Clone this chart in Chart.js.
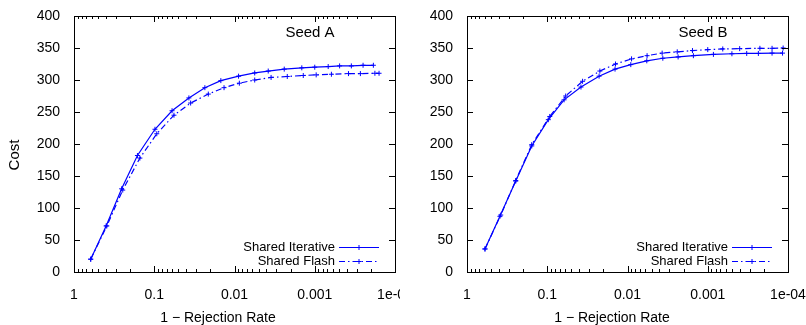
<!DOCTYPE html>
<html>
<head>
<meta charset="utf-8">
<script src="https://cdn.jsdelivr.net/npm/chart.js@4.4.1/dist/chart.umd.min.js"></script>
<style>
body{margin:0;background:#fff;}
#wrap{position:relative;width:806px;height:325px;}
canvas{position:absolute;top:0;}
</style>
</head>
<body>
<div id="wrap">
<canvas id="left" width="400" height="325" style="left:0"></canvas>
<canvas id="right" width="406" height="325" style="left:400px"></canvas>
</div>
<script>

const seriesNames=["Shared Iterative","Shared Flash"];
const panelTitles=["Seed A","Seed B"];
const xTicks=[1,0.1,0.01,0.001,0.0001];
const xTickLabels=["1","0.1","0.01","0.001","1e-04"];
const yTicks=[0,50,100,150,200,250,300,350,400];

const aIterX=[0.619,0.398,0.255,0.162,0.098,0.060,0.037,0.0234,0.0148,0.0089,0.0056,0.0038,0.0024,0.00145,0.001,0.00068,0.00049,0.00035,0.00025,0.000186];
const aIterY=[20,72,130,182,223,252,272,288,299,306,311,314,317,319,320,321,322,322,323,323];
const aFlashX=[0.619,0.39,0.247,0.151,0.093,0.0568,0.0352,0.0212,0.0135,0.0087,0.0056,0.0035,0.0022,0.00139,0.00096,0.00062,0.00038,0.00027,0.000178,0.000158];
const aFlashY=[20,72,128,178,216,245,264,278,288,295,300,304,305.5,307,308,309,310,310,310.5,310.5];

const bIterX=[0.597,0.389,0.247,0.156,0.097,0.0617,0.038,0.0226,0.0143,0.0091,0.00575,0.00363,0.00234,0.00151,0.00085,0.0005,0.000327,0.000234,0.000158,0.000117];
const bIterY=[36,87,142,197,238,269,289,306,317,324,330,334,336,338,340,341,341.5,341.5,342,342];
const bFlashX=[0.597,0.38,0.247,0.156,0.093,0.0589,0.0363,0.0221,0.0141,0.0089,0.0057,0.0037,0.0024,0.00155,0.001,0.00065,0.0004,0.000224,0.000158,0.000115];
const bFlashY=[36,89,143,199,243,275,298,314,325,333,338,342,344,346,347.5,348.5,349,349.5,349.5,350];

const blue="rgb(0,0,255)";
const font="'Liberation Sans', Arial, sans-serif";
const flashDash=[6,3,1.5,3];

function points(xs,ys){
return xs.map((x,i)=>({x:x,y:ys[i]}));
}

function drawCross(ctx,x,y,r){
ctx.beginPath();
ctx.moveTo(x-r,y);ctx.lineTo(x+r,y);
ctx.moveTo(x,y-r);ctx.lineTo(x,y+r);
ctx.stroke();
}

// frame, inward ticks, titles and key, gnuplot style
const decor={
id:"decor",
afterDraw(chart,args,opts){
let ctx=chart.ctx;
let a=chart.chartArea;
let xs=chart.scales.x;
let ys=chart.scales.y;
ctx.save();
ctx.strokeStyle="#000";
ctx.lineWidth=1;
ctx.setLineDash([]);
ctx.strokeRect(Math.round(a.left)+0.5,Math.round(a.top)+0.5,Math.round(a.right-a.left),Math.round(a.bottom-a.top));

ctx.beginPath();
for(let d=0;d>=-4;d--){
for(let k=1;k<10;k++){
let v=k*Math.pow(10,d);
if(v>1||v<0.0001) continue;
let px=Math.round(xs.getPixelForValue(v))+0.5;
let len=k==1?6:3;
ctx.moveTo(px,a.bottom);ctx.lineTo(px,a.bottom-len);
ctx.moveTo(px,a.top);ctx.lineTo(px,a.top+len);
}
}
yTicks.forEach(v=>{
let py=Math.round(ys.getPixelForValue(v))+0.5;
ctx.moveTo(a.left,py);ctx.lineTo(a.left+6,py);
ctx.moveTo(a.right,py);ctx.lineTo(a.right-6,py);
});
ctx.stroke();

ctx.fillStyle="#000";
ctx.font="15px "+font;
ctx.textAlign="center";
ctx.textBaseline="middle";
ctx.fillText(opts.title,a.right-85,a.top+17);

ctx.font="14px "+font;
ctx.fillText("1 \u2212 Rejection Rate",opts.xTitleX,318);

if(opts.yTitle){
ctx.save();
ctx.translate(15,155);
ctx.rotate(-Math.PI/2);
ctx.font="15px "+font;
ctx.fillText("Cost",0,0);
ctx.restore();
}

ctx.font="13px "+font;
chart.data.datasets.forEach((ds,i)=>{
let y=a.bottom-25+i*14;
ctx.textAlign="right";
ctx.fillStyle="#000";
ctx.fillText(ds.label,a.right-60,y);
ctx.strokeStyle=blue;
ctx.lineWidth=1.2;
ctx.setLineDash(ds.borderDash||[]);
ctx.beginPath();
ctx.moveTo(a.right-56,y+0.5);ctx.lineTo(a.right-16,y+0.5);
ctx.stroke();
ctx.setLineDash([]);
ctx.lineWidth=1;
drawCross(ctx,a.right-36,y+0.5,2.5);
});
ctx.restore();
}
};

function makeChart(id,title,iterX,iterY,flashX,flashY,yWidth,padRight,xTitleX,yTitle){

return new Chart(document.getElementById(id),{
type:"line",
data:{
datasets:[
{
label:seriesNames[0],
data:points(iterX,iterY),
borderColor:blue,
backgroundColor:blue,
borderWidth:1.2,
pointStyle:"cross",
pointRadius:2.5,
pointBorderWidth:1,
tension:0
},
{
label:seriesNames[1],
data:points(flashX,flashY),
borderColor:blue,
backgroundColor:blue,
borderWidth:1.2,
borderDash:flashDash,
pointStyle:"cross",
pointRadius:2.5,
pointBorderWidth:1,
tension:0
}
]
},
options:{
responsive:false,
animation:false,
devicePixelRatio:1,
layout:{padding:{left:0,right:padRight,top:16,bottom:0}},
plugins:{
legend:{display:false},
tooltip:{enabled:false},
decor:{title:title,xTitleX:xTitleX,yTitle:yTitle}
},
scales:{
x:{
type:"logarithmic",
min:0.0001,
max:1,
reverse:true,
grid:{display:false},
border:{display:false},
ticks:{
padding:7,
color:"#000",
font:{family:font,size:14},
maxRotation:0,
autoSkip:false,
callback:(v,i)=>xTickLabels[i]
},
afterBuildTicks:s=>{s.ticks=xTicks.map(v=>({value:v}));},
afterFit:s=>{s.height=53;s.paddingLeft=0;s.paddingRight=0;}
},
y:{
type:"linear",
min:0,
max:400,
grid:{display:false},
border:{display:false},
ticks:{
stepSize:50,
padding:6,
color:"#000",
font:{family:font,size:14}
},
afterBuildTicks:s=>{s.ticks=yTicks.map(v=>({value:v}));},
afterFit:s=>{s.width=yWidth;s.paddingTop=0;s.paddingBottom=0;}
}
}
},
plugins:[decor]
});

}

makeChart("left",panelTitles[0],aIterX,aIterY,aFlashX,aFlashY,74,5,218,true);
makeChart("right",panelTitles[1],bIterX,bIterY,bFlashX,bFlashY,67,18,212,false);

</script>
</body>
</html>
